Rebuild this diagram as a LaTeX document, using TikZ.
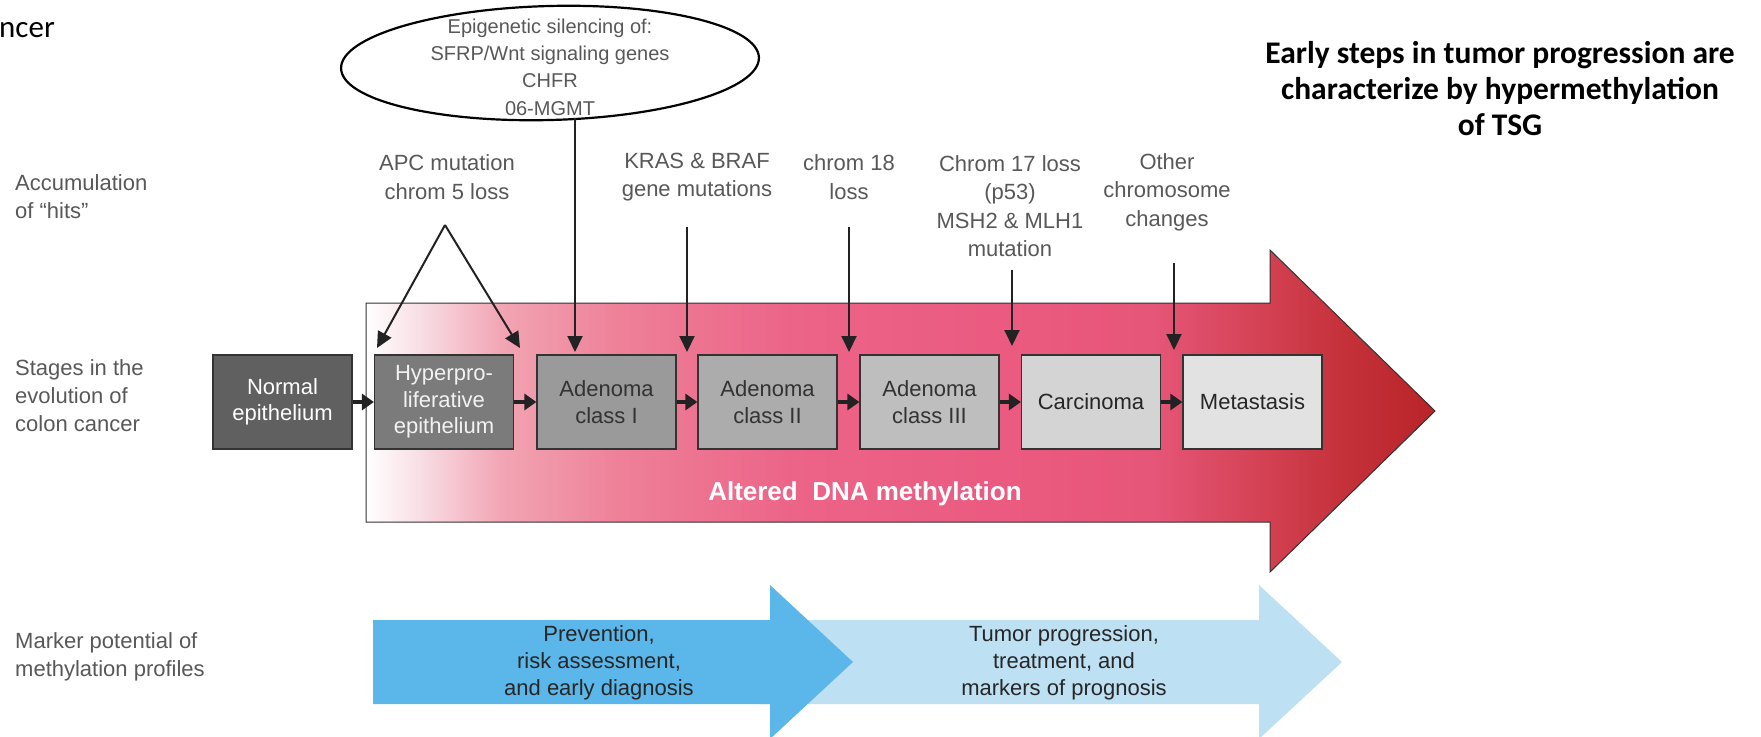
\documentclass[tikz,border=0pt]{standalone}
\usepackage{fontspec}
\setmainfont{Liberation Sans}
\newfontfamily\calib{Carlito}
\usetikzlibrary{arrows.meta,shapes.geometric}
\definecolor{txt}{HTML}{585858}
\definecolor{arr}{HTML}{222222}
\definecolor{boxline}{HTML}{333333}
\definecolor{bxa}{HTML}{606060}
\definecolor{bxb}{HTML}{7B7B7B}
\definecolor{bxc}{HTML}{9A9A9A}
\definecolor{bxd}{HTML}{ACACAC}
\definecolor{bxe}{HTML}{BEBEBE}
\definecolor{bxf}{HTML}{D4D4D4}
\definecolor{bxg}{HTML}{E2E2E2}
\definecolor{bluedark}{RGB}{91,183,233}
\definecolor{bluelight}{RGB}{190,224,243}
\definecolor{pkb}{RGB}{248,222,229}
\definecolor{pkc}{RGB}{242,165,180}
\definecolor{pkd}{RGB}{238,128,152}
\definecolor{pke}{RGB}{236,100,136}
\definecolor{pkf}{RGB}{235,90,128}
\definecolor{pkg}{RGB}{230,86,120}
\definecolor{pkh}{RGB}{214,68,88}
\definecolor{pki}{RGB}{196,48,56}
\definecolor{pkj}{RGB}{184,36,40}
\pgfdeclarehorizontalshading{pinkarrow}{100bp}{%
color(0bp)=(white);
color(25bp)=(white);
color(27.5bp)=(pkb);
color(31.3bp)=(pkc);
color(36.9bp)=(pkd);
color(45bp)=(pke);
color(55bp)=(pkf);
color(61.7bp)=(pkg);
color(66.3bp)=(pkh);
color(71bp)=(pki);
color(75bp)=(pkj);
color(100bp)=(pkj)}
\begin{document}
\begin{tikzpicture}[x=1pt,y=-1pt,
  lbl/.style={anchor=west, align=left, inner sep=0, text=txt, font=\fontsize{22}{28}\selectfont},
  hit/.style={align=center, inner sep=0, text=txt, font=\fontsize{22}{28.5}\selectfont},
  stage/.style={draw=boxline, line width=1.2pt, minimum width=139pt, minimum height=94pt, inner sep=0, align=center, font=\fontsize{22}{26.5}\selectfont},
  flow/.style={draw=arr, line width=4.5pt, -{Triangle[length=12pt,width=16pt]}},
  hitarrow/.style={draw=arr, line width=2pt, -{Triangle[length=16pt,width=15pt]}},
  bluetext/.style={align=center, inner sep=0, text=black!85, font=\fontsize{22}{27}\selectfont}
]
\useasboundingbox (0,0) rectangle (1761,736);

% big pink arrow
\shadedraw[shading=pinkarrow, draw=black!80, line width=1pt]
  (366,303) -- (1270,303) -- (1270,250) -- (1435,411) -- (1270,572) -- (1270,522) -- (366,522) -- cycle;

% blue arrows
\fill[bluelight] (760,620) -- (1259,620) -- (1259,585) -- (1342,662) -- (1259,739) -- (1259,704) -- (760,704) -- cycle;
\fill[bluedark] (373,620) -- (770,620) -- (770,585) -- (853,662) -- (770,739) -- (770,704) -- (373,704) -- cycle;

% top-left fragment and title
\node[anchor=base west, inner sep=0, font=\calib\fontsize{31}{36}\selectfont] (frag) at (-1,37) {ncer};
\node[align=center, inner sep=0, font=\calib\bfseries\fontsize{31.5}{36}\selectfont] (title) at (1500,89)
  {Early steps in tumor progression are\\characterize by hypermethylation\\of TSG};

% left labels
\node[lbl] (lab1) at (15,197) {Accumulation\\of “hits”};
\node[lbl] (lab2) at (15,396) {Stages in the\\evolution of\\colon cancer};
\node[lbl] (lab3) at (15,657) {Marker potential of\\methylation profiles};

% ellipse
\node[ellipse, draw=black, line width=2.2pt, minimum width=418pt, minimum height=114pt, inner sep=0, rotate=1.5] (epi) at (550,63) {};
\node[align=center, inner sep=0, text=txt, font=\fontsize{20}{27.3}\selectfont] (epitext) at (550,67)
  {Epigenetic silencing of:\\SFRP/Wnt signaling genes\\CHFR\\06-MGMT};

% hits
\node[hit] (apc) at (447,177) {APC mutation\\chrom 5 loss};
\node[hit] (kras) at (697,177) {KRAS \& BRAF\\gene mutations};
\node[hit] (c18) at (849,177) {chrom 18\\loss};
\node[hit] (c17) at (1010,206) {Chrom 17 loss\\(p53)\\MSH2 \& MLH1\\mutation};
\node[hit] (oth) at (1167,192) {Other\\chromosome\\changes};

% stage boxes
\node[stage, fill=bxa, text=white] (s1) at (282.5,402) {Normal\\epithelium};
\node[stage, fill=bxb, text=white!95!black] (s2) at (444,402) {Hyperpro-\\liferative\\epithelium};
\node[stage, fill=bxc, text=black!80] (s3) at (606.5,402) {Adenoma\\class I};
\node[stage, fill=bxd, text=black!80] (s4) at (767.5,402) {Adenoma\\class II};
\node[stage, fill=bxe, text=black!80] (s5) at (929.5,402) {Adenoma\\class III};
\node[stage, fill=bxf, text=black!85] (s6) at (1091,402) {Carcinoma};
\node[stage, fill=bxg, text=black!85] (s7) at (1252.5,402) {Metastasis};

\draw[flow] (s1) -- (s2);
\draw[flow] (s2) -- (s3);
\draw[flow] (s3) -- (s4);
\draw[flow] (s4) -- (s5);
\draw[flow] (s5) -- (s6);
\draw[flow] (s6) -- (s7);

% hit arrows
\coordinate (apex) at (445,225);
\coordinate (apcL) at (377,348);
\coordinate (apcR) at (520,348);
\coordinate (eA) at (575,118);
\coordinate (eB) at (575,352);
\coordinate (kA) at (687,227);
\coordinate (kB) at (687,352);
\coordinate (cA) at (849,227);
\coordinate (cB) at (849,352);
\coordinate (dA) at (1012,270);
\coordinate (dB) at (1012,346);
\coordinate (oA) at (1174,263);
\coordinate (oB) at (1174,350);
\draw[hitarrow] (apex) -- (apcL);
\draw[hitarrow] (apex) -- (apcR);
\draw[hitarrow] (eA) -- (eB);
\draw[hitarrow] (kA) -- (kB);
\draw[hitarrow] (cA) -- (cB);
\draw[hitarrow] (dA) -- (dB);
\draw[hitarrow] (oA) -- (oB);

% altered DNA methylation
\node[inner sep=0, text=white, font=\bfseries\fontsize{26}{30}\selectfont] (adm) at (865,494) {Altered\ \ DNA methylation};

% blue arrow texts
\node[bluetext] (prev) at (599,663) {Prevention,\\risk assessment,\\and early diagnosis};
\node[bluetext] (tumor) at (1064,663) {Tumor progression,\\treatment, and\\markers of prognosis};
\end{tikzpicture}
\end{document}
